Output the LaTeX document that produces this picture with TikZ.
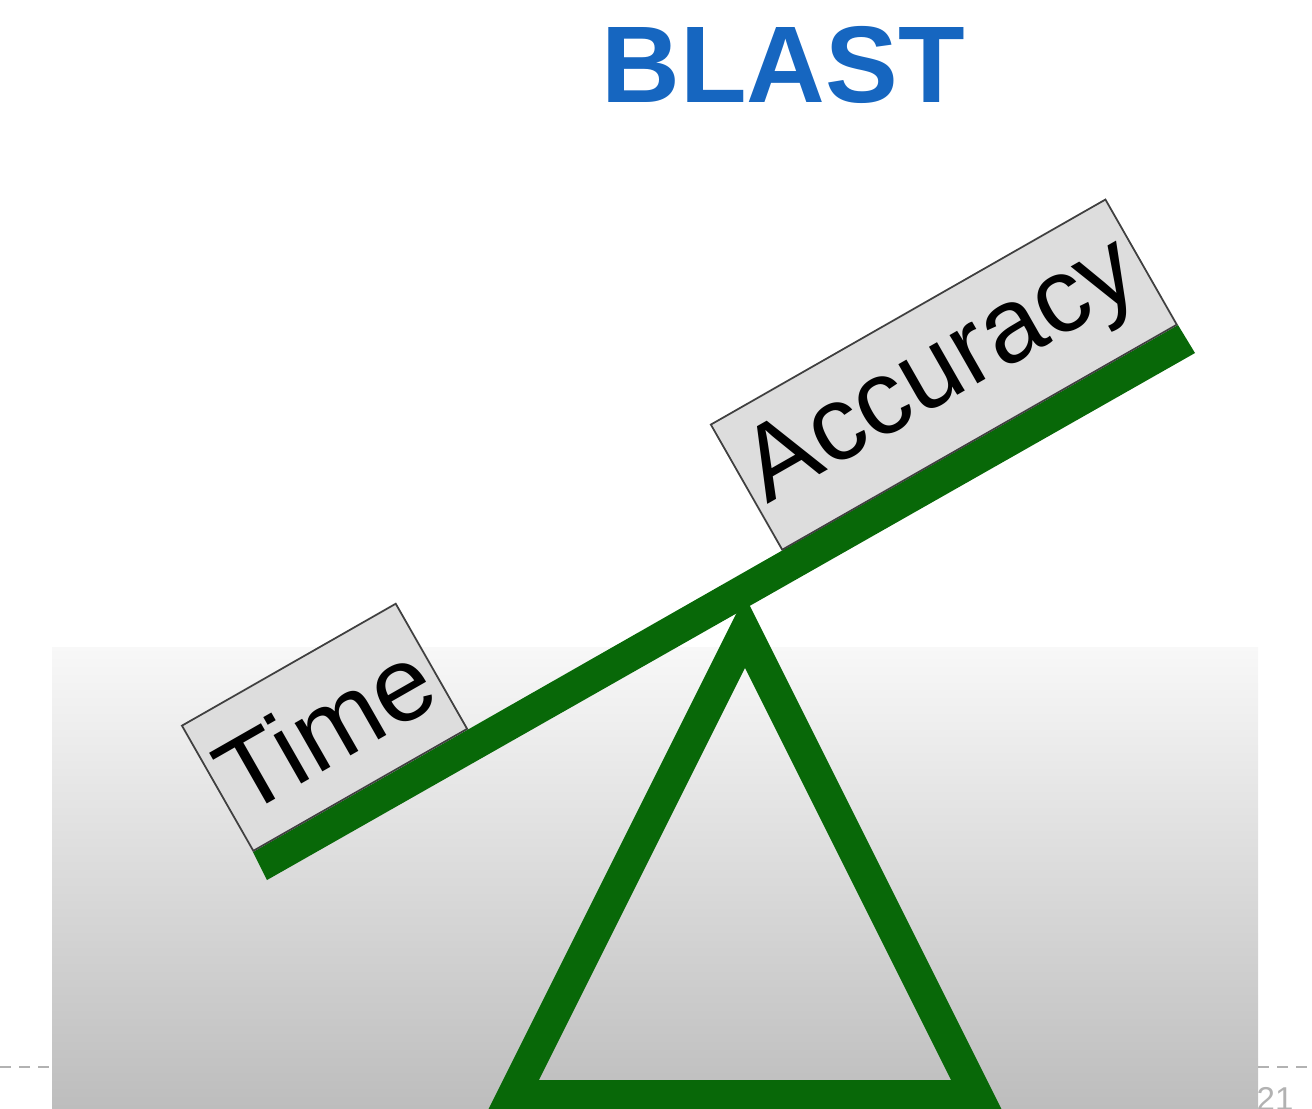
\documentclass[tikz,border=0pt]{standalone}
\usepackage{fontspec}
\setmainfont{Liberation Sans}
\usepackage{xcolor}
\definecolor{blastblue}{RGB}{22,102,192}
\definecolor{seesawgreen}{RGB}{8,104,8}
\definecolor{boxgray}{RGB}{221,221,221}
\definecolor{paneltop}{RGB}{248,248,248}
\definecolor{panelbottom}{RGB}{189,189,189}
\definecolor{dashgray}{RGB}{178,178,178}
\usetikzlibrary{calc}

\begin{document}
\begin{tikzpicture}[x=0.01cm, y=-0.01cm,
  weightbox/.style={
    rectangle, rotate=29.7,
    draw=black!75, line width=0.5pt,
    fill=boxgray,
    minimum height=1.44cm, inner sep=0pt,
    font=\fontsize{30}{30}\selectfont,
    text=black
  },
  fulcrum/.style={draw=seesawgreen, line width=0.32cm, line join=miter},
  pagedash/.style={draw=dashgray, line width=0.025cm, dash pattern=on 0.11cm off 0.08cm}
]
\useasboundingbox (0,0) rectangle (1312,1108);

\shade[top color=paneltop, bottom color=panelbottom] (52,647) rectangle (1258,1108);
\draw[pagedash] (0,1067) -- (52,1067);
\draw[pagedash] (1258,1067) -- (1312,1067);
\node[font=\fontsize{9.4}{9.4}\selectfont, text=dashgray, anchor=north west, inner sep=0pt]
  (page) at (1256,1087) {21};

\node[font=\bfseries\fontsize{31}{31}\selectfont, text=blastblue] (title) at (783,65) {BLAST};

\coordinate (apex)  at (745,632);
\coordinate (baser) at (977,1096);
\coordinate (basel) at (513,1096);
\draw[fulcrum] (apex) -- (baser) -- (basel) -- cycle;

\coordinate (beamtl) at (253,852);
\coordinate (beambl) at (267,880);
\coordinate (beambr) at (1195,353);
\coordinate (beamtr) at (1178,325);
\fill[seesawgreen] (beamtl) -- (beambl) -- (beambr) -- (beamtr) -- cycle;

\node[weightbox, minimum width=2.46cm, anchor=south west] (time) at (beamtl) {Time};
\node[weightbox, minimum width=4.54cm, anchor=south east] (accuracy) at (beamtr) {Accuracy};
\end{tikzpicture}
\end{document}
